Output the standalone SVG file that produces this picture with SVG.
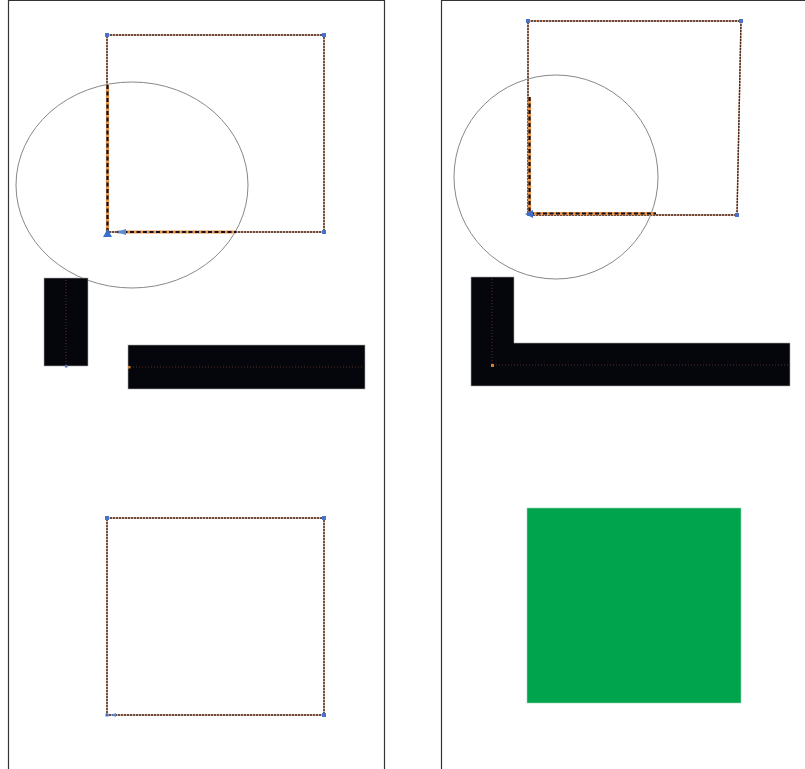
<svg xmlns="http://www.w3.org/2000/svg" width="805" height="769" viewBox="0 0 805 769">
<style>
.panel{fill:none;stroke:#333;stroke-width:1.2}
.thin{fill:none;stroke:#3a2e33;stroke-width:1.4;stroke-dasharray:2 1}
.thinb{fill:none;stroke:#d89060;stroke-width:1.4}
.thick{fill:none;stroke:#e8954a;stroke-width:3.2}
.thickd{fill:none;stroke:#111122;stroke-width:2.2;stroke-dasharray:4 2.5}
.circ{fill:none;stroke:#888;stroke-width:1}
.blk{fill:#05050c;stroke:#aaa;stroke-width:0.6}
.dot{fill:none;stroke:#6a3a2a;stroke-width:0.8;stroke-dasharray:1 2}
.pt{fill:#4a72c8}
</style>
<rect width="805" height="769" fill="#fff"/>
<g id="frames">
<path class="panel" d="M8.5 769V0.5H384.5V769"/>
<path class="panel" d="M441.5 769V0.5H805"/>
</g>
<g id="left-top">
<rect class="thinb" x="107" y="35" width="217" height="197"/>
<rect class="thin" x="107" y="35" width="217" height="197"/>
<ellipse class="circ" cx="132" cy="185" rx="116" ry="103"/>
<path class="thick" d="M107.5 85V232M117 232H236"/>
<path class="thickd" d="M107.5 85V232M117 232H236"/>
<polygon points="103,237 107.5,229 112,237" fill="#3a6fd0"/>
<polygon points="116,232 126,229 126,235" fill="#5a8ae0"/>
<rect class="pt" x="105" y="33" width="4" height="4"/>
<rect class="pt" x="322" y="33" width="4" height="4"/>
<rect class="pt" x="322" y="230" width="4" height="4"/>
</g>
<g id="left-mid">
<rect class="blk" x="44" y="278" width="44" height="88"/>
<rect class="blk" x="128" y="345" width="237" height="44"/>
<line class="dot" x1="66" y1="280" x2="66" y2="366"/>
<line class="dot" x1="130" y1="367" x2="364" y2="367"/>
<rect class="pt" x="65" y="365" width="2.5" height="2.5"/>
<rect x="128" y="366" width="2.5" height="2.5" fill="#c87a30"/>
</g>
<g id="left-bottom">
<rect class="thinb" x="107" y="518" width="217" height="197"/>
<rect class="thin" x="107" y="518" width="217" height="197"/>
<rect class="pt" x="105" y="516" width="4" height="4"/>
<rect class="pt" x="322" y="516" width="4" height="4"/>
<rect class="pt" x="322" y="713" width="4" height="4"/>
<rect class="pt" x="105.5" y="713.5" width="3" height="3"/>
<polygon points="111,715 116,713 116,717" fill="#5a8ae0"/>
</g>
<g id="right-top">
<polygon class="thinb" points="528,21 741,21 737,215 528,215"/>
<polygon class="thin" points="528,21 741,21 737,215 528,215"/>
<circle class="circ" cx="556" cy="177" r="102"/>
<path class="thick" d="M529.5 97V213.5H656"/>
<path class="thickd" d="M529.5 97V213.5H656"/>
<polygon points="525,214 533,210 533,218" fill="#3a6fd0"/>
<rect class="pt" x="526" y="19" width="4" height="4"/>
<rect class="pt" x="739" y="19" width="4" height="4"/>
<rect class="pt" x="735" y="213" width="4" height="4"/>
</g>
<g id="right-mid">
<path class="blk" d="M471 277H514V343H790V386H471Z"/>
<line class="dot" x1="492" y1="279" x2="492" y2="365"/>
<line class="dot" x1="493" y1="365" x2="790" y2="365"/>
<rect x="491" y="364" width="3" height="3" fill="#d08030"/>
</g>
<g id="right-bottom">
<rect x="527" y="508" width="214" height="195" fill="#00a44c" stroke="#9ad8b0" stroke-width="0.6"/>
</g>
</svg>
